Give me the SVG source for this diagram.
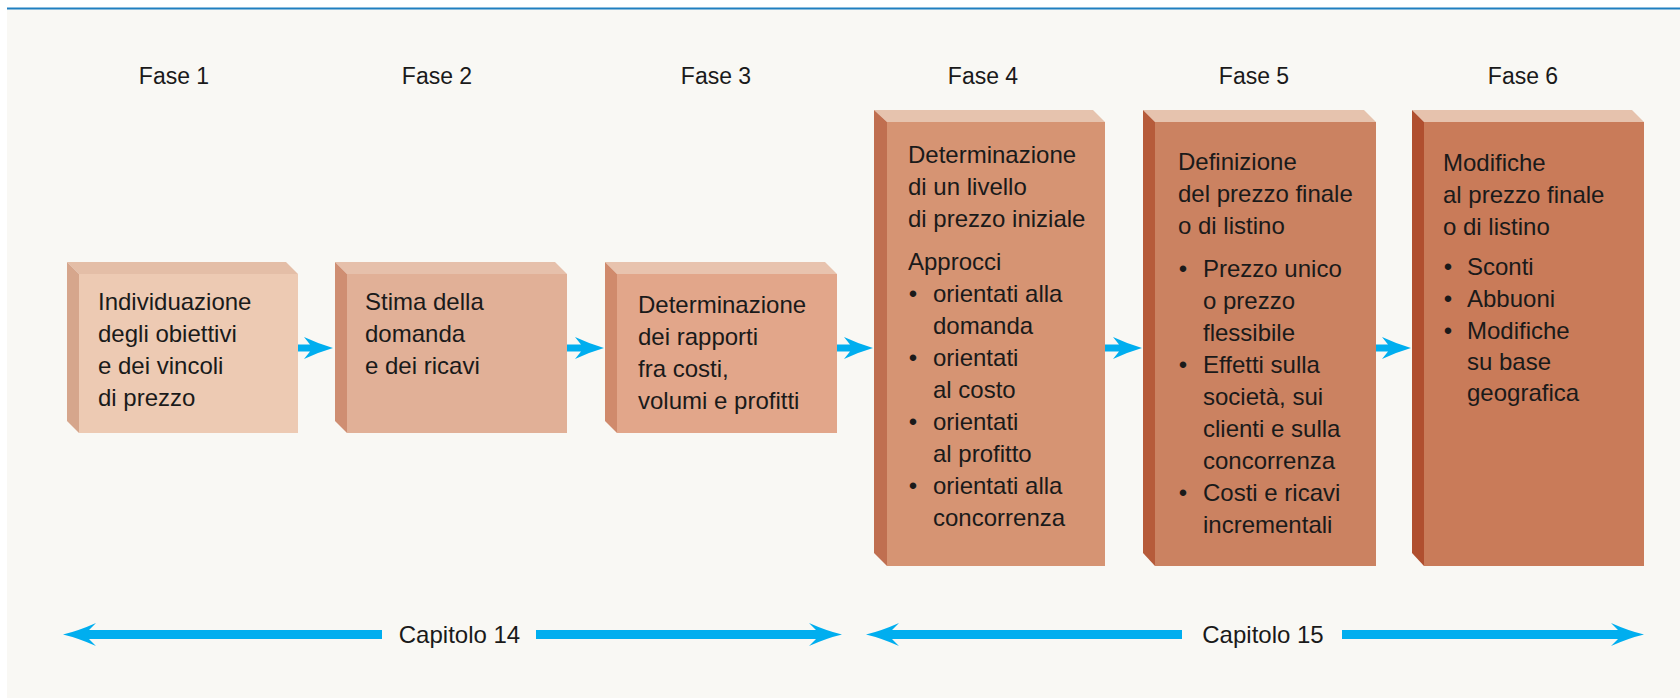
<svg xmlns="http://www.w3.org/2000/svg" width="1680" height="698" viewBox="0 0 1680 698">
<style>
  text { font-family: "Liberation Sans", Arial, Helvetica, sans-serif; fill: #1a1a1a; }
  .fase { font-size: 23px; text-anchor: middle; }
  .t { font-size: 24px; }
  .b { font-size: 24px; text-anchor: middle; }
  .cap { font-size: 24px; text-anchor: middle; }
  .arrow { fill: #00aeef; }
  .shaft { stroke: #00aeef; stroke-width: 9; }
</style>
<defs>
  <path id="smallArrow" d="M0,0 Q-14,-4 -29,-11 L-23,-3.5 L-37,-3.5 L-37,3.5 L-23,3.5 L-29,11 Q-14,4 0,0 Z"/>
  <path id="bigHead" d="M0,0 Q-15,-3.5 -33,-11.5 L-26,-4.5 L-26,4.5 L-33,11.5 Q-15,3.5 0,0 Z"/>
</defs>

<rect x="7" y="9" width="1673" height="689" fill="#f9f8f4"/>
<line x1="7" y1="8.5" x2="1680" y2="8.5" stroke="#1f7fc0" stroke-width="2"/>

<g id="fase-labels">
  <text class="fase" x="174" y="84">Fase 1</text>
  <text class="fase" x="437" y="84">Fase 2</text>
  <text class="fase" x="716" y="84">Fase 3</text>
  <text class="fase" x="983" y="84">Fase 4</text>
  <text class="fase" x="1254" y="84">Fase 5</text>
  <text class="fase" x="1523" y="84">Fase 6</text>
</g>

<g id="connectors">
  <use href="#smallArrow" class="arrow" transform="translate(333,348)"/>
  <use href="#smallArrow" class="arrow" transform="translate(604,348)"/>
  <use href="#smallArrow" class="arrow" transform="translate(873,348)"/>
  <use href="#smallArrow" class="arrow" transform="translate(1142,348)"/>
  <use href="#smallArrow" class="arrow" transform="translate(1411,348)"/>
</g>

<g id="fase1">
  <polygon points="67,262 286,262 298,274 79,274" fill="#e4bea7"/>
  <polygon points="67,262 79,274 79,433 67,421" fill="#d6a68c"/>
  <rect x="79" y="274" width="219" height="159" fill="#edcab3"/>
  <text class="t" x="98" y="310">Individuazione</text>
  <text class="t" x="98" y="342">degli obiettivi</text>
  <text class="t" x="98" y="374">e dei vincoli</text>
  <text class="t" x="98" y="406">di prezzo</text>
</g>

<g id="fase2">
  <polygon points="335,262 555,262 567,274 347,274" fill="#e6c0ab"/>
  <polygon points="335,262 347,274 347,433 335,421" fill="#cf8e72"/>
  <rect x="347" y="274" width="220" height="159" fill="#e1b097"/>
  <text class="t" x="365" y="310">Stima della</text>
  <text class="t" x="365" y="342">domanda</text>
  <text class="t" x="365" y="374">e dei ricavi</text>
</g>

<g id="fase3">
  <polygon points="605,262 825,262 837,274 617,274" fill="#e8c3ae"/>
  <polygon points="605,262 617,274 617,433 605,421" fill="#d08a6c"/>
  <rect x="617" y="274" width="220" height="159" fill="#e2a68a"/>
  <text class="t" x="638" y="313">Determinazione</text>
  <text class="t" x="638" y="345">dei rapporti</text>
  <text class="t" x="638" y="377">fra costi,</text>
  <text class="t" x="638" y="409">volumi e profitti</text>
</g>

<g id="fase4">
  <polygon points="874,110 1093,110 1105,122 887,122" fill="#e6c3ae"/>
  <polygon points="874,110 887,122 887,566 874,553" fill="#c06f50"/>
  <rect x="887" y="122" width="218" height="444" fill="#d69473"/>
  <text class="t" x="908" y="163">Determinazione</text>
  <text class="t" x="908" y="195">di un livello</text>
  <text class="t" x="908" y="227">di prezzo iniziale</text>
  <text class="t" x="908" y="270">Approcci</text>
  <text class="b" x="913" y="302">•</text>
  <text class="t" x="933" y="302">orientati alla</text>
  <text class="t" x="933" y="334">domanda</text>
  <text class="b" x="913" y="366">•</text>
  <text class="t" x="933" y="366">orientati</text>
  <text class="t" x="933" y="398">al costo</text>
  <text class="b" x="913" y="430">•</text>
  <text class="t" x="933" y="430">orientati</text>
  <text class="t" x="933" y="462">al profitto</text>
  <text class="b" x="913" y="494">•</text>
  <text class="t" x="933" y="494">orientati alla</text>
  <text class="t" x="933" y="526">concorrenza</text>
</g>

<g id="fase5">
  <polygon points="1143,110 1364,110 1376,122 1155,122" fill="#e6c3ae"/>
  <polygon points="1143,110 1155,122 1155,566 1143,553" fill="#b65b3a"/>
  <rect x="1155" y="122" width="221" height="444" fill="#cb8261"/>
  <text class="t" x="1178" y="170">Definizione</text>
  <text class="t" x="1178" y="202">del prezzo finale</text>
  <text class="t" x="1178" y="234">o di listino</text>
  <text class="b" x="1183" y="277">•</text>
  <text class="t" x="1203" y="277">Prezzo unico</text>
  <text class="t" x="1203" y="309">o prezzo</text>
  <text class="t" x="1203" y="341">flessibile</text>
  <text class="b" x="1183" y="373">•</text>
  <text class="t" x="1203" y="373">Effetti sulla</text>
  <text class="t" x="1203" y="405">società, sui</text>
  <text class="t" x="1203" y="437">clienti e sulla</text>
  <text class="t" x="1203" y="469">concorrenza</text>
  <text class="b" x="1183" y="501">•</text>
  <text class="t" x="1203" y="501">Costi e ricavi</text>
  <text class="t" x="1203" y="533">incrementali</text>
</g>

<g id="fase6">
  <polygon points="1412,110 1632,110 1644,122 1424,122" fill="#e6c2ad"/>
  <polygon points="1412,110 1424,122 1424,566 1412,553" fill="#b04f2f"/>
  <rect x="1424" y="122" width="220" height="444" fill="#c97b59"/>
  <text class="t" x="1443" y="171">Modifiche</text>
  <text class="t" x="1443" y="203">al prezzo finale</text>
  <text class="t" x="1443" y="235">o di listino</text>
  <text class="b" x="1448" y="275">•</text>
  <text class="t" x="1467" y="275">Sconti</text>
  <text class="b" x="1448" y="307">•</text>
  <text class="t" x="1467" y="307">Abbuoni</text>
  <text class="b" x="1448" y="339">•</text>
  <text class="t" x="1467" y="339">Modifiche</text>
  <text class="t" x="1467" y="370">su base</text>
  <text class="t" x="1467" y="401">geografica</text>
</g>

<g id="capitolo14">
  <line class="shaft" x1="89" y1="634.5" x2="382" y2="634.5"/>
  <use href="#bigHead" class="arrow" transform="translate(63,634.5) rotate(180)"/>
  <line class="shaft" x1="536" y1="634.5" x2="816" y2="634.5"/>
  <use href="#bigHead" class="arrow" transform="translate(842,634.5)"/>
  <text class="cap" x="459.5" y="643">Capitolo 14</text>
</g>

<g id="capitolo15">
  <line class="shaft" x1="892" y1="634.5" x2="1182" y2="634.5"/>
  <use href="#bigHead" class="arrow" transform="translate(866,634.5) rotate(180)"/>
  <line class="shaft" x1="1342" y1="634.5" x2="1618" y2="634.5"/>
  <use href="#bigHead" class="arrow" transform="translate(1644,634.5)"/>
  <text class="cap" x="1263" y="643">Capitolo 15</text>
</g>
</svg>
